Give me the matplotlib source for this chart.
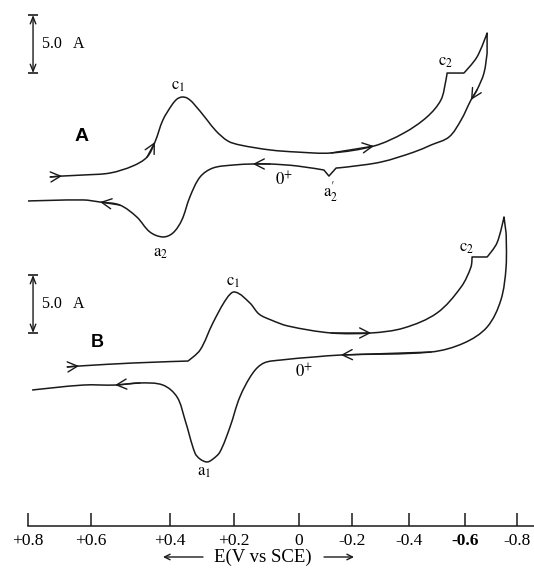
import numpy as np
import matplotlib.pyplot as plt
from matplotlib.path import Path
from matplotlib.patches import PathPatch

plt.rcParams['font.family'] = ['Liberation Serif', 'DejaVu Serif']
plt.rcParams['mathtext.fontset'] = 'stix'

# potential axis
tick_vals = [0.8, 0.6, 0.4, 0.2, 0.0, -0.2, -0.4, -0.6, -0.8]
tick_labels = ['+0.8', '+0.6', '+0.4', '+0.2', '0', '-0.2', '-0.4', '-0.6', '-0.8']

# trace A: E (V vs SCE) and current (uA), scan to negative and back
a_fwd_E = [0.73, 0.692, 0.625, 0.552, 0.494, 0.458, 0.438, 0.418, 0.394, 0.378, 0.363, 0.347, 0.328, 0.284,
           0.256, 0.219, 0.182, 0.089, 0.006, -0.121, -0.277, -0.382, -0.464, -0.514, -0.532, -0.536, -0.596,
           -0.646, -0.685]
a_fwd_i = [0.95, 1.03, 1.12, 1.29, 1.90, 2.67, 3.97, 5.86, 7.16, 7.67, 7.84, 7.76, 7.33, 5.86,
           4.91, 4.05, 3.71, 3.28, 3.10, 3.02, 3.62, 4.74, 6.12, 7.59, 9.31, 9.91, 9.91,
           11.29, 13.36]
a_rev_E = [-0.685, -0.673, -0.646, -0.623, -0.586, -0.543, -0.479, -0.418, -0.302, -0.181, -0.140, -0.113, -0.094,
           0.006, 0.089, 0.142, 0.203, 0.266, 0.306, 0.338, 0.363, 0.391, 0.418, 0.451, 0.484, 0.527, 0.577, 0.625, 0.80]
a_rev_i = [11.64, 9.91, 8.45, 7.59, 5.86, 4.40, 3.71, 3.10, 2.24, 1.81, 1.72, 1.03, 1.55,
           1.90, 2.07, 2.07, 1.98, 1.72, 0.95, -0.78, -2.76, -3.88, -4.22, -3.79, -2.50, -1.47, -1.21, -1.03, -1.12]
a_fwd_arrows = [1, 6, 20]
a_rev_arrows = [3, 15, 26]
a_fwd_corners = [25, 26, 28]   # c2 step and the switching point
a_rev_corners = [0, 10, 11, 12]  # a2' notch

# trace B
b_fwd_E = [0.676, 0.638, 0.494, 0.344, 0.306, 0.266, 0.222, 0.197, 0.151, 0.123, 0.086, 0.034, -0.121, -0.267,
           -0.382, -0.50, -0.586, -0.623, -0.627, -0.685, -0.723, -0.75]
b_fwd_i = [0.78, 0.86, 1.12, 1.29, 2.24, 4.57, 6.72, 7.24, 6.29, 5.34, 4.83, 4.31, 3.71, 3.71,
           4.14, 5.43, 7.67, 9.40, 10.26, 10.26, 11.47, 13.71]
b_rev_E = [-0.758, -0.758, -0.738, -0.685, -0.596, -0.479, -0.158, -0.057, 0.055, 0.108, 0.142, 0.182, 0.2125,
           0.244, 0.266, 0.284, 0.306, 0.322, 0.353, 0.378, 0.418, 0.476, 0.539, 0.625, 0.787]
b_rev_i = [12.33, 9.40, 6.55, 4.22, 2.84, 2.07, 1.81, 1.64, 1.38, 1.12, 0.26, -1.81, -4.40,
           -6.55, -7.16, -7.41, -7.16, -6.64, -3.79, -1.81, -0.78, -0.60, -0.78, -0.78, -1.21]
b_fwd_arrows = [1, 13]
b_rev_arrows = [6, 22]
b_fwd_corners = [3, 18, 19, 21]
b_rev_corners = [0]

scale_uA = 5.0

W, H = 534, 569
# the axis in the scan is hand drawn and its ticks are unevenly spaced:
# map E through the drawn tick marks (pixels from the left edge)
tick_px = [28, 91, 170, 234, 299, 352, 409, 465, 517]
ev = np.array([-1.0] + tick_vals[::-1] + [1.0])
pv = -np.array([569] + tick_px[::-1] + [-35], dtype=float)


def fwd(v):
    return np.interp(v, ev, pv)


def inv(p):
    return np.interp(p, pv, ev)


x_left, x_right = float(inv(0.0)), float(inv(-W))
px_per_uA = 11.6
col = '#1a1a1a'

fig = plt.figure(figsize=(W / 100, H / 100), dpi=100)


def box(top, bottom):
    return [0, 1 - bottom / H, 1, (bottom - top) / H]


axA = fig.add_axes(box(0, 260))
axB = fig.add_axes(box(260, 480))
axE = fig.add_axes(box(480, 526))
for ax in (axA, axB, axE):
    ax.set_xscale('function', functions=(fwd, inv))
    ax.set_xlim(x_left, x_right)
axA.set_ylim(-(260 - 188) / px_per_uA, 188 / px_per_uA)
axB.set_ylim(-(480 - 376) / px_per_uA, (376 - 260) / px_per_uA)


def smooth_path(E, i, corners):
    # smooth pen stroke through the read points, handles scaled by segment length
    P = np.column_stack([fwd(np.array(E)), np.array(i) * px_per_uA])
    n = len(P)
    seg = np.linalg.norm(np.diff(P, axis=0), axis=1)
    D = np.zeros_like(P)
    for k in range(1, n - 1):
        if k not in corners:
            d = P[k + 1] - P[k - 1]
            D[k] = d / (np.linalg.norm(d) + 1e-9)
    verts, codes = [P[0]], [Path.MOVETO]
    for k in range(n - 1):
        verts += [P[k] + D[k] * seg[k] / 3, P[k + 1] - D[k + 1] * seg[k] / 3, P[k + 1]]
        codes += [Path.CURVE4] * 3
    V = np.array(verts)
    return Path(np.column_stack([inv(V[:, 0]), V[:, 1] / px_per_uA]), codes)


def arrows(ax, E, i, idx):
    for h in idx:
        ax.annotate('', xy=(E[h], i[h]), xytext=(E[h - 1], i[h - 1]),
                    arrowprops=dict(arrowstyle='->,head_length=0.55,head_width=0.28', color=col, lw=1.0,
                                    shrinkA=0, shrinkB=0, mutation_scale=13), annotation_clip=False)


def scale_bar(ax, x, top):
    ax.annotate('', xy=(x, top), xytext=(x, top - scale_uA),
                arrowprops=dict(arrowstyle='<->,head_length=0.5,head_width=0.2', color=col, lw=1.0,
                                shrinkA=0, shrinkB=0, mutation_scale=10))
    ax.plot([x, x], [top, top - scale_uA], ls='none', marker='_', ms=7, mew=1.2, color=col)
    ax.text(0.756, top - scale_uA / 2, '5.0   A', fontsize=11.5, ha='left', va='center')


for ax, fE, fi, rE, ri, fa, ra, fc, rc in (
        (axA, a_fwd_E, a_fwd_i, a_rev_E, a_rev_i, a_fwd_arrows, a_rev_arrows, a_fwd_corners, a_rev_corners),
        (axB, b_fwd_E, b_fwd_i, b_rev_E, b_rev_i, b_fwd_arrows, b_rev_arrows, b_fwd_corners, b_rev_corners)):
    corners = fc + [len(fE) + c for c in rc]
    ax.add_patch(PathPatch(smooth_path(fE + rE, fi + ri, corners), fill=False, ec=col, lw=1.1,
                           joinstyle='round', clip_on=False))
    arrows(ax, fE, fi, fa)
    arrows(ax, rE, ri, ra)
    ax.axis('off')

scale_bar(axA, 0.784, 14.91)
scale_bar(axB, 0.784, 8.71)

lab = dict(fontsize=12, ha='center', va='center')
axA.text(0.629, 4.4, 'A', fontsize=14, fontweight='bold', family='Liberation Sans', ha='center', va='center')
axA.text(0.375, 8.8, r'$\mathrm{c}_1$', **lab)
axA.text(-0.532, 10.9, r'$\mathrm{c}_2$', **lab)
axA.text(0.425, -5.6, r'$\mathrm{a}_2$', **lab)
axA.text(0.046, 0.7, r'$0^{+}$', **lab)
axA.text(-0.121, -0.35, r"$\mathrm{a}_2^{\prime}$", **lab)

axB.text(0.585, 2.9, 'B', fontsize=13, fontweight='bold', family='Liberation Sans', ha='center', va='center')
axB.text(0.203, 8.1, r'$\mathrm{c}_1$', **lab)
axB.text(-0.608, 11.0, r'$\mathrm{c}_2$', **lab)
axB.text(-0.019, 0.35, r'$0^{+}$', **lab)
axB.text(0.294, -8.3, r'$\mathrm{a}_1$', **lab)

# potential axis at the bottom
for s in ('top', 'left', 'right'):
    axE.spines[s].set_visible(False)
axE.spines['bottom'].set_bounds(tick_vals[0], x_right)
axE.spines['bottom'].set_linewidth(1.1)
axE.spines['bottom'].set_color(col)
axE.patch.set_visible(False)
axE.set_yticks([])
axE.set_xticks(tick_vals)
axE.set_xticklabels(tick_labels)
axE.xaxis.set_minor_locator(plt.NullLocator())
axE.tick_params(axis='x', direction='in', length=9.4, width=1.1, pad=5, labelsize=12.5, color=col)
axE.get_xticklabels()[7].set_fontweight('bold')

ylab = 1 - 557 / H
fig.text(263 / W, ylab, 'E(V vs SCE)', fontsize=13.5, ha='center', va='center')
fig.add_artist(plt.Annotation('', xy=(163 / W, ylab), xytext=(203 / W, ylab),
                              xycoords='figure fraction', textcoords='figure fraction',
                              arrowprops=dict(arrowstyle='->', color=col, lw=1.0, shrinkA=0, shrinkB=0)))
fig.add_artist(plt.Annotation('', xy=(354 / W, ylab), xytext=(324 / W, ylab),
                              xycoords='figure fraction', textcoords='figure fraction',
                              arrowprops=dict(arrowstyle='->', color=col, lw=1.0, shrinkA=0, shrinkB=0)))

fig.savefig('out.png', dpi=100, facecolor='white')
